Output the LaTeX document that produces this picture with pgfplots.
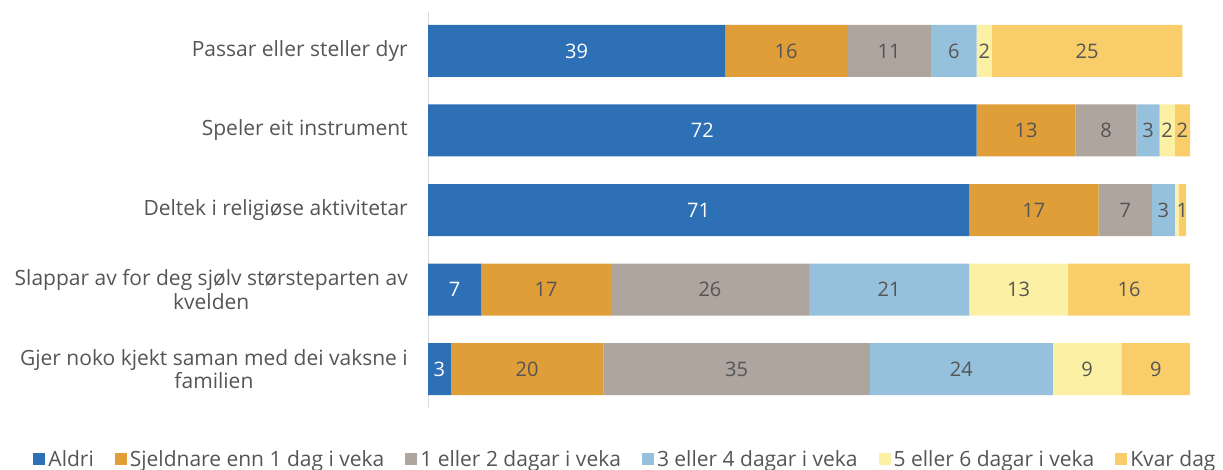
\documentclass[border=0pt]{standalone}
\usepackage{pgfplots}
\pgfplotsset{compat=1.18}
\usepackage{pgfplotstable}
\usepackage{fontspec}
\setmainfont{Open Sans}

\definecolor{cAldri}{RGB}{46,112,182}
\definecolor{cSjeld}{RGB}{224,158,56}
\definecolor{cEinTo}{RGB}{173,165,158}
\definecolor{cTreFire}{RGB}{150,193,220}
\definecolor{cFemSeks}{RGB}{252,240,165}
\definecolor{cKvar}{RGB}{249,206,106}
\definecolor{txt}{RGB}{85,85,85}

% Share of pupils (%) per activity and frequency
\pgfplotstableread{
row aldri sjeld eint trefire femseks kvar
0   39    16    11   6       2       25
1   72    13    8    3       2       2
2   71    17    7    3       0.5     1
3   7     17    26   21      13      16
4   3     20    35   24      9       9
}\data

% One stacked segment: column, fill colour, label colour
\newcommand\seg[3]{%
  \addplot[fill=#2, draw=none,
    visualization depends on={\thisrow{#1} \as \myval},
    nodes near coords={\ifdim\myval pt<1pt\else\pgfmathprintnumber{\myval}\fi},
    every node near coord/.append style={text=#3, anchor=center}]
    table[x=#1, y=row] {\data};}

\begin{document}
\begin{tikzpicture}[x=1pt,y=1pt]
\useasboundingbox (0,0) rectangle (1223,469);
\begin{axis}[
  at={(428pt,61pt)}, anchor=south west,
  scale only axis, width=762pt, height=396pt,
  xbar stacked, bar width=52pt,
  xmin=0, xmax=100,
  ymin=-0.49, ymax=4.49, y dir=reverse,
  enlargelimits=false,
  axis line style={draw=none},
  xtick=\empty,
  ytick={0,1,2,3,4},
  yticklabels={{Passar eller steller dyr},{Speler eit instrument},{Deltek i religiøse aktivitetar},{Slappar av for deg sjølv størsteparten av\\kvelden},{Gjer noko kjekt saman med dei vaksne i\\familien}},
  major tick length=0pt,
  yticklabel style={align=center, anchor=east, inner sep=0pt, xshift=-20pt,
    text=txt, font=\fontsize{21}{23.5}\selectfont},
  /pgf/number format/assume math mode=true,
  every node near coord/.append style={font=\fontsize{20}{23}\selectfont},
  legend columns=6,
  legend entries={Aldri, Sjeldnare enn 1 dag i veka, 1 eller 2 dagar i veka, 3 eller 4 dagar i veka, 5 eller 6 dagar i veka, Kvar dag},
  legend image code/.code={\fill[#1] (0pt,-6pt) rectangle (12pt,6pt);},
  legend style={draw=none, fill=none, at={(-0.518,-0.129)}, anchor=west,
    inner sep=0pt, nodes={inner sep=1pt},
    font=\fontsize{21}{23}\selectfont, text=txt,
    /tikz/every even column/.append style={column sep=20pt},
    /tikz/every odd column/.append style={column sep=2pt}},
]
\seg{aldri}{cAldri}{white}
\seg{sjeld}{cSjeld}{txt}
\seg{eint}{cEinTo}{txt}
\seg{trefire}{cTreFire}{txt}
\seg{femseks}{cFemSeks}{txt}
\seg{kvar}{cKvar}{txt}
\draw[black!15, line width=1.5pt] (rel axis cs:0,0) -- (rel axis cs:0,1);
\end{axis}
\end{tikzpicture}
\end{document}
